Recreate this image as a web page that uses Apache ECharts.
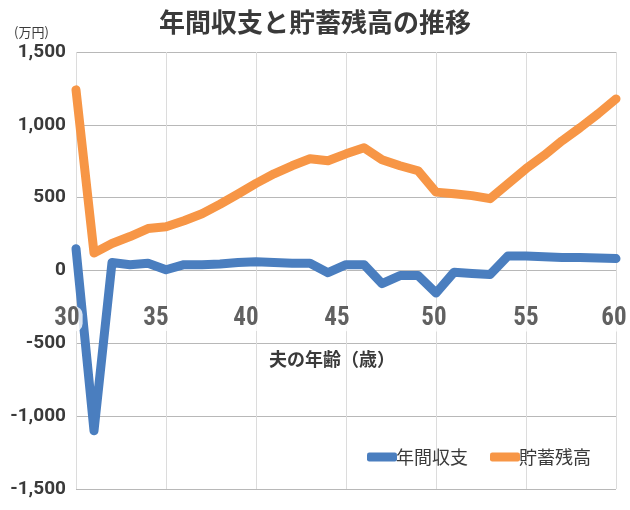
<!DOCTYPE html>
<html><head><meta charset="utf-8">
<script src="https://cdn.jsdelivr.net/npm/echarts@6/dist/echarts.min.js"></script>
<style>html,body{margin:0;padding:0;background:#fff}#c{width:630px;height:510px}</style>
</head><body><div id="c"></div>
<script>
const ages = [30,31,32,33,34,35,36,37,38,39,40,41,42,43,44,45,46,47,48,49,50,51,52,53,54,55,56,57,58,59,60];
const balance = [150,-1100,55,40,50,5,40,40,45,55,60,55,50,50,-15,40,40,-90,-35,-35,-155,-12,-20,-28,100,100,95,90,90,85,82];
const savings = [1240,120,185,233,288,300,342,390,455,525,598,664,719,767,753,801,843,760,719,685,538,527,514,493,596,699,790,890,980,1075,1178];
const yTicks = [-1500,-1000,-500,0,500,1000,1500];
const xTicks = [30,35,40,45,50,55,60];
const seriesNames = ['年間収支','貯蓄残高'];
// horizontal nudge of each x tick label (style only)
const xLabelNudge = [-9,-10,-10,-9,-2,0,-2];

const chart = echarts.init(document.getElementById('c'));
const numFont = 'Roboto, "Liberation Sans", sans-serif';
const narrowFont = '"Liberation Sans Narrow", "Roboto Condensed", Roboto, sans-serif';
const jpFont = '"Noto Sans CJK JP", sans-serif';
chart.setOption({
  animation:false,
  backgroundColor:'#fff',
  title:{text:'年間収支と貯蓄残高の推移',left:'center',top:4,textStyle:{fontFamily:jpFont,fontSize:26,fontWeight:'bold',color:'#3a3a3a'}},
  graphic:[
    {type:'text',left:14,top:26,style:{text:'(万円)',fontFamily:jpFont,fontSize:13,fill:'#3a3a3a'}},
    {type:'text',left:269,top:350,style:{text:'夫の年齢（歳）',fontFamily:jpFont,fontSize:18,fontWeight:'bold',fill:'#3a3a3a'}}
  ],
  legend:{left:362,top:443,itemWidth:30,itemHeight:9,itemGap:22,icon:'roundRect',
    textStyle:{fontFamily:jpFont,fontSize:18,color:'#3a3a3a',padding:[0,0,0,-6]},
    data:seriesNames},
  grid:{left:76,right:14,top:52,bottom:21,outerBoundsMode:'none',containLabel:false},
  xAxis:{type:'value',min:xTicks[0],max:xTicks[xTicks.length-1],interval:5,
    axisLine:{show:false},axisTick:{show:false},axisLabel:{show:false},
    splitLine:{show:true,lineStyle:{color:'#dcdcdc',width:1}}},
  yAxis:{type:'value',min:yTicks[0],max:yTicks[yTicks.length-1],interval:500,
    axisLine:{show:false},axisTick:{show:false},
    splitLine:{lineStyle:{color:'#b8b8b8',width:1}},
    axisLabel:{fontFamily:numFont,fontSize:19,fontWeight:'bold',color:'#3a3a3a',margin:10,
      formatter:v=>v.toLocaleString('en-US')}},
  series:[
    {name:seriesNames[0],type:'line',data:ages.map((a,i)=>[a,balance[i]]),symbol:'none',z:3,
      lineStyle:{width:9,color:'#4a7ebf',join:'round',cap:'round'},itemStyle:{color:'#4a7ebf'}},
    {name:seriesNames[1],type:'line',data:ages.map((a,i)=>[a,savings[i]]),symbol:'none',z:2,
      lineStyle:{width:9,color:'#f79646',join:'round',cap:'round'},itemStyle:{color:'#f79646'}},
    {name:'xlabels',type:'scatter',symbolSize:0,silent:true,z:10,
      data:xTicks.map((v,i)=>({value:[v,0],label:{offset:[xLabelNudge[i],0]}})),
      label:{show:true,position:'bottom',distance:36,formatter:p=>String(p.value[0]),
        fontFamily:narrowFont,fontSize:25,fontWeight:'bold',color:'#3a3a3a',
        backgroundColor:'#fff',padding:[0,3],borderRadius:8}}
  ]
});
</script></body></html>
